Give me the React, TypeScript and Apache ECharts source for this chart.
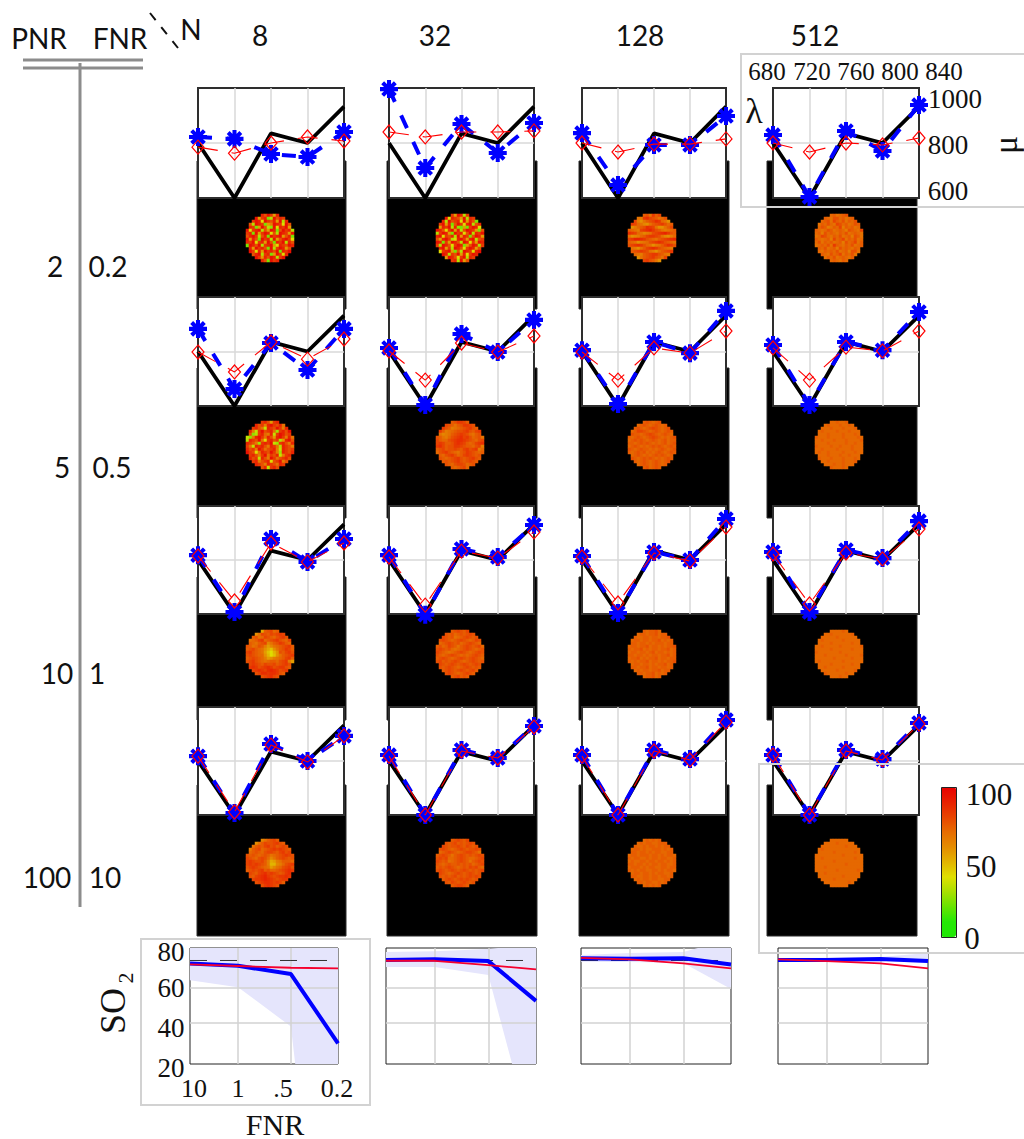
import React, { useEffect, useRef } from "react";
import * as echarts from "echarts";

// ---- data ----
const wavelengths = [680, 720, 760, 800, 840];
const truthMu = [800, 600, 835, 800, 932];
const columnsN = ["8", "32", "128", "512"];
const rowsPNR = ["2", "5", "10", "100"];
const rowsFNR = ["0.2", "0.5", "1", "10"];

const blueMu = [
  [[822, 815, 760, 749, 840], [996, 709, 869, 764, 873], [836, 647, 793, 793, 898], [829, 604, 844, 771, 938]],
  [[883, 662, 831, 732, 883], [813, 604, 864, 798, 916], [805, 607, 835, 794, 949], [824, 604, 835, 805, 945]],
  [[818, 607, 878, 793, 878], [818, 597, 841, 811, 930], [815, 604, 830, 800, 952], [830, 607, 837, 807, 944]],
  [[818, 607, 863, 800, 893], [822, 600, 841, 811, 930], [822, 600, 841, 807, 952], [822, 600, 841, 807, 941]],
];
const redMu = [
  [[785, 763, 800, 822, 807], [840, 822, 840, 840, 844], [800, 767, 796, 796, 815], [800, 767, 800, 793, 818]],
  [[798, 725, 835, 772, 846], [802, 695, 831, 798, 857], [798, 695, 813, 794, 875], [813, 695, 816, 802, 875]],
  [[815, 648, 863, 793, 863], [811, 633, 833, 807, 904], [811, 641, 826, 796, 922], [822, 637, 826, 804, 915]],
  [[818, 611, 859, 796, 893], [818, 600, 837, 811, 926], [818, 600, 837, 804, 944], [822, 600, 837, 804, 937]],
];

// FNR axis order 10, 1, .5, 0.2 at their places on the drawn axis
const fnrPlaces = [0, 1, 2.1, 3.08];
const fnrTicks = ["10", "1", ".5", "0.2"];
const so2Truth = [75.76, 75.76, 75.76, 75.76];
const so2Blue = [
  [74.1, 72.7, 68, 28.4],
  [76, 76.4, 75.4, 52.7],
  [77, 76.7, 77, 73.5],
  [76, 76, 76.6, 75.4],
];
const so2Red = [
  [73.5, 72.6, 71.6, 71.3],
  [75.6, 75.6, 73.1, 70.7],
  [77.3, 76.4, 74.1, 71.3],
  [76.4, 75.4, 74.1, 71.3],
];
const so2BandUpper = [
  [[0, 82.9], [3.08, 82.9]],
  [[0, 80.6], [1, 81], [2.1, 82.3], [2.3, 82.9], [3.08, 82.9]],
  [[0, 78.9], [1, 80], [2.1, 80.6], [2.4, 82.9], [3.08, 82.9]],
  [[0, 77], [2.1, 77.7], [3.08, 80]],
];
const so2BandLower = [
  [[0, 64.5], [1, 60.5], [2.1, 38], [2.19, 16.6], [3.08, 16.6]],
  [[0, 72], [1, 72], [2.1, 67.4], [2.59, 16.6], [3.08, 16.6]],
  [[0, 75], [1, 74.9], [2.1, 74.3], [3.08, 59.4]],
  [[0, 75.4], [2.1, 75.4], [3.08, 74.3]],
];

// SO2 images: each letter is one cell of the disc, a = 20 and every next letter is 3 more
const disk_2_8 = ["xtzvmx","zmvxbeztxv","vzxhzvtxmzex","tezxvbmpzxvhzt","xvbmzteczhxvzm","zhvxzetmzxbtzvxe","vxbzmvzxhtezxvmz","txzvetxbzvxzmtxb","zmxtbzvxezmtxzvh","xvzhvxmztbxvzext","bzxtzevxzmhxvtzx","xmzvxtbzevzxmt","zvhxmzvxtzbxvz","txzevxbmzvhx","zvmxtzxevz","xtbzvx"];
const disk_2_32 = ["vmzxev","zhxvtmzexv","xeztvxhzmxtb","vzmxbtzvhxzetx","mxvzexcbmbvzxh","zxthvzmxetzxvmbt","evzxmbzvxhtzexvz","xzhvtxezmxvbtzxm","tmxzvehxzvmxzetv","zxbvmzxtezxhvmzx","vezxthvzxbmtzxev","xzmvezxthvzxmt","hvxzmbtezxvhxz","zxevtzmxhvzx","mzxthvzexv","vxezmt"];
const disk_2_128 = ["stqvsu","qpvwutsqrt","upnqstuwvrqn","vurqonqstuvtrs","nprstwvuqnnqsu","srqpuvwxvtsqpqrs","wvurqopqtuvwxvts","qnoprsuvvutqonpr","uvxxwvtsrqstuvwx","srqnpqrtuvwvtsrq","tuvwvtrqnpqsuwvt","qpnqsuvwvtsrqp","stuvutqpnqstuv","rqpstuvvtsqp","nqstuvtsqu","uvtsqn"];
const disk_2_512 = ["rsqrst","srqttrsqrs","rstqusrtqsrt","qsrtrqutrsqrts","rtspqsrupsrsqr","srqrtsqrsrptsrqu","rsptrsrqsrtqrsrq","qrutrqsrtqrsptsq","srqrspursuqsrtqr","rtqsrsqrsptrsuqs","qrsrtqvsrqsrtqrs","srtqrsptrsrqsr","rqsrsrtqrspttq","srqtrsuqsrtq","qsrtqrsrqs","rsrqsr"];
const disk_5_8 = ["vxtmvx","xtvpxzvtxq","vxtqfxvtzvpx","xpfvztvxqdvxtz","tcevxrpxfvzxtv","fcpxzvqxtmxzvpxq","exvtzqhvxtvemxzt","xvtpdvxvzfdvxtpx","vqfxvxtpxvqexvtp","xtvpzvqtvxpfxvtv","zvthqxvtzvpdxvtx","vxtpvzqvtxfpvx","xtvfxtpzvqtvxt","vxptvxhtvzpt","xvtpxvtqxv","txfvxt"];
const disk_5_32 = ["stvvus","utsqstvvut","vtspqrstuvts","vspqrsttuvtsuv","qopqstuvutrqst","tsqprtuvwuvtrstq","usrrtuvwwvutsrtu","uvusstvwvusrsuvw","vwusttvvutssrtup","stusttutsuvtuvpr","rtuvtsrqstvutsrs","srtuvtrsuvutst","tsrstuvtstuvts","ststuvtstuts","tsrtuutrst","srstur"];
const disk_5_128 = ["stsrst","rstsrstsrs","stsrstutsrst","rsuutsrstsrsts","tssrstutsrstsr","srstsrstutsrsrst","rststsrstsrstrss","ssrststsrsrstrst","rstsrsrststsrsts","tsrstssrsrstsrst","srststrsrstsrsts","rstsrsrststsrs","tsrststsrsrsts","srstsrstsrst","rstsrstsrs","strsts"];
const disk_5_512 = ["rrsrrs","rsrrrsrrsr","rrrsrrrsrrrs","rsrrrrsrrrsrrr","rrrsrrrrsrrrsr","srrrsrrrrsrrrrsr","rrsrrrsrrrsrrrrs","rrrrsrrrrrsrrsrr","srrrrsrrsrrrsrrr","rrsrrrrsrrrrsrrr","rsrrsrrrrsrrrsrr","rrrsrrrsrrsrrr","srrrsrrrsrrrsr","rrsrrrrsrrrs","rrrsrrsrrr","srrrsr"];
const disk_10_8 = ["lsturs","nqutsutuvu","stqrutsrtuvt","qrsuvrstuvtsru","srqstuoqstvusr","tsqrtspmoqrstuvs","stusrqnljnqstvus","uvtsrqmjhkntsuvt","tutsrrnkhjnqstuv","stutsrpmnpqrsuvs","tuvtsrqrssrtuvpm","uvutsuttustuvt","vwvtuvwvtuvvts","uvwvuwxwvtuv","tuwwvwwvts","tuvwut"];
const disk_10_32 = ["stutsu","tstrststut","utstqrstutst","tutsrstutsrsut","rstutstrstutsr","strsutsqstutstur","tutstrqrstutsrst","utsrqrstutsrstut","tsrstutsrsrstuts","stutsrstutstutsr","tuststutsrstutst","utstutstutstut","tstutsrstutsts","stutstutstus","tutsrstuts","stusts"];
const disk_10_128 = ["srsstr","rssrsstrss","srrssrssrsst","rssrssrsstrsrs","ssrssrsrsssrss","rssrsstrssrsrsst","srsstrsrssrsstrs","rssrssrstrssrsrs","ssrssrsrssrsstrs","rsstrsrsstrssrss","srsrsstrssrsrsst","rssrssrsrsstrs","ssrsstrssrssrs","rsrssrsstrss","ssrsstrsrs","rsstrs"];
const disk_10_512 = ["rrrrsr","rrsrrrrrrs","rrrrrsrrrrrr","rsrrrrrrsrrrrr","rrrrsrrrrrrsrr","rrsrrrrrsrrrrrrs","rrrrrsrrrrrrsrrr","srrrrrrrsrrrrrrr","rrrsrrrrrrsrrrrs","rrrrrrsrrrrrsrrr","rsrrrrrrrsrrrrrr","rrrrsrrrrrrsrr","rrsrrrrrsrrrrr","rrrrrsrrrrrs","srrrrrrsrr","rrrsrr"];
const disk_100_8 = ["oqstus","nqsuttuvts","qstsuvtustut","psturstuvuvuts","rstsrtuutsuvtu","tstsrstsqrstuvut","utsrtutroqstutst","uvuttusplmpqsssr","uvuvutspkkoprtuv","tuvutsrqmoqrtuvt","stutuvstrrstuvwv","utsuvwuvutstvw","tsuvwxvutuvvwv","uvvwxwvutuvv","tuvwwvuvus","tvwvut"];
const disk_100_32 = ["stutsu","tstuststut","utsttutsutst","tutsrstutsttut","rstutsrstuutsq","stutsqstutststut","tuturrstutsrrstu","utstqrstutsqstut","tsrstsstststrstu","ststutsrstsutusr","tutstutstutststu","utsrstutstutst","tststuststutut","stutstututst","tsutstutst","stuuts"];
const disk_100_128 = ["rsrsrs","rsrssrrsss","srrsrssrsrss","rssrsrrsssrsrs","ssrssrsrssrrss","rssrsssrssrsrssr","srssrrsrssrssrrs","rsrrssrssrssrsrs","ssrssrsrssrssrrs","rsssrsrssrrssrss","srsrssrrssrsrssr","rssrssrsrssrrs","ssrrssrssrssrs","rsrssrssrrss","ssrssrrsrs","rsrsrs"];
const disk_100_512 = ["rrrrrr","rrrrsrrrrr","rrrrrrrrsrrr","rsrrrrrrrrrrrr","rrrrrsrrrrrrsr","rrrrrrrrrsrrrrrr","rrsrrrrrrrrrrsrr","rrrrrrsrrrrrrrrr","rrrrrrrrrrsrrrrr","rrrsrrrrrrrrrrrr","rrrrrrrsrrrrrrsr","rrsrrrrrrrrrrr","rrrrrrrrsrrrrr","rrrrsrrrrrrr","rrrrrrrrsr","rrrrrr"];
const diskRows = [
  [disk_2_8, disk_2_32, disk_2_128, disk_2_512],
  [disk_5_8, disk_5_32, disk_5_128, disk_5_512],
  [disk_10_8, disk_10_32, disk_10_128, disk_10_512],
  [disk_100_8, disk_100_32, disk_100_128, disk_100_512],
];
const colorStops = ["#1fe805","#24e805","#66e400","#a8e000","#e0e000","#e2b400","#e48c00","#e66c00","#e84400","#e82000","#e80000"];

// ---- layout ----
const panelX = [[198, 344], [389, 534], [582, 726], [773, 919]];
const panelY = [[88, 198], [297, 406], [506, 614], [707, 815]];
const frameX = [[197, 346], [387, 537], [579, 729], [767, 917]];
const frameY = [[161, 309], [368, 518], [577, 720], [785, 936]];
const diskLeft = [246, 436, 628, 815];
const diskTop = [214, 421, 630, 839];
const so2X = [[190, 338], [386, 536], [581, 731], [778, 928]];
const so2Y = [948, 1064];
const W = 1024, H = 1139;
const SANS = "Lato", SERIF = "Liberation Serif";
const STAR = "path://M-1.8 -8H1.8V8H-1.8ZM-8 -1.8H8V1.8H-8ZM-6.9 -4.35L-4.35 -6.9L6.9 4.35L4.35 6.9ZM4.35 -6.9L6.9 -4.35L-4.35 6.9L-6.9 4.35Z";

function text(t: string, x: number, y: number, size: number, family: string, extra: any = {}) {
  return {
    type: "text", x, y, z: 100, silent: true, ...extra,
    style: { text: t, fontSize: size, fontFamily: family, fill: "#111", align: "center", verticalAlign: "middle", ...(extra.style || {}) },
  };
}
function line(x1: number, y1: number, x2: number, y2: number, stroke: string, lineWidth: number, lineDash?: number[]) {
  return { type: "line", z: 100, silent: true, shape: { x1, y1, x2, y2 }, style: { stroke, lineWidth, lineDash } };
}
function box(x: number, y: number, w: number, h: number) {
  return { type: "rect", z: 100, silent: true, shape: { x, y, width: w, height: h }, style: { fill: "transparent", stroke: "#d2d2d2", lineWidth: 2 } };
}

function buildOption() {
  const grid: any[] = [], xAxis: any[] = [], yAxis: any[] = [], series: any[] = [], graphic: any[] = [];
  const heatSeries: number[] = [];
  const cells = Array.from({ length: 16 }, (_, i) => String(i));

  const addGrid = (g: any, x: any, y: any) => {
    grid.push(g);
    xAxis.push({ gridIndex: grid.length - 1, ...x });
    yAxis.push({ gridIndex: grid.length - 1, ...y });
    return grid.length - 1;
  };

  rowsPNR.forEach((_, r) => {
    columnsN.forEach((_, c) => {
      // black image frame behind the panel
      graphic.push({
        type: "rect", z: 0, silent: true,
        shape: { x: frameX[c][0], y: frameY[r][0], width: frameX[c][1] - frameX[c][0], height: frameY[r][1] - frameY[r][0] },
        style: { fill: "#000", stroke: "#2a2a2a", lineWidth: 1 },
      });
      // SO2 disc
      const hg = addGrid(
        { left: diskLeft[c], top: diskTop[r], width: 48, height: 48, show: false, z: 1 },
        { type: "category", data: cells, show: false },
        { type: "category", data: cells, show: false, inverse: true },
      );
      const data: number[][] = [];
      diskRows[r][c].forEach((row, i) => {
        const off = Math.floor((16 - row.length) / 2);
        for (let j = 0; j < row.length; j++) data.push([off + j, i, (row.charCodeAt(j) - 97) * 3 + 20]);
      });
      heatSeries.push(series.length);
      series.push({ type: "heatmap", xAxisIndex: hg, yAxisIndex: hg, data, z: 2, progressive: 0, emphasis: { disabled: true }, itemStyle: { borderWidth: 0 } });

      // spectrum panel
      const lg = addGrid(
        {
          left: panelX[c][0], top: panelY[r][0], width: panelX[c][1] - panelX[c][0], height: panelY[r][1] - panelY[r][0],
          show: true, backgroundColor: "#fff", borderColor: "#2e2e2e", borderWidth: 2, z: 1,
        },
        {
          type: "value", min: 680, max: 840, interval: 40, z: 2,
          axisLine: { show: false }, axisTick: { show: false }, axisLabel: { show: false },
          splitLine: { show: true, showMinLine: false, showMaxLine: false, lineStyle: { color: "#d9d9d9", width: 1.5 } },
        },
        {
          type: "value", min: 600, max: 1000, interval: 200, z: 2,
          axisLine: { show: false }, axisTick: { show: false }, axisLabel: { show: false },
          splitLine: { show: true, showMinLine: false, showMaxLine: false, lineStyle: { color: "#d9d9d9", width: 1.5 } },
        },
      );
      const pts = (v: number[]) => wavelengths.map((w, i) => [w, v[i]]);
      series.push({
        type: "line", xAxisIndex: lg, yAxisIndex: lg, data: pts(truthMu), z: 3, clip: false, showSymbol: false, symbol: "none",
        lineStyle: { color: "#000", width: 3.8 }, silent: true,
      });
      series.push({
        type: "line", xAxisIndex: lg, yAxisIndex: lg, data: pts(blueMu[r][c]), z: 4, clip: false,
        symbol: STAR, symbolSize: 18, showAllSymbol: true,
        itemStyle: { color: "#0000ff" }, lineStyle: { color: "#0000ff", width: 4, type: [14, 15] }, silent: true,
      });
      series.push({
        type: "line", xAxisIndex: lg, yAxisIndex: lg, data: pts(redMu[r][c]), z: 5, clip: false,
        symbol: "diamond", symbolSize: [12, 14], showAllSymbol: true,
        itemStyle: { color: "transparent", borderColor: "#ff0000", borderWidth: 1.2 },
        lineStyle: { color: "#ff0000", width: 1.1, type: [20, 14] }, silent: true,
      });
    });
  });

  // bottom SO2 panels
  columnsN.forEach((_, c) => {
    const g = addGrid(
      {
        left: so2X[c][0], top: so2Y[0], width: so2X[c][1] - so2X[c][0], height: so2Y[1] - so2Y[0],
        show: true, backgroundColor: "#fff", borderColor: "#222", borderWidth: 1, z: 1,
      },
      { type: "value", min: 0, max: 3.08, show: false },
      { type: "value", min: 16.6, max: 82.9, show: false },
    );
    const band = [...so2BandUpper[c], ...[...so2BandLower[c]].reverse()];
    series.push({
      type: "custom", xAxisIndex: g, yAxisIndex: g, z: 2, silent: true, data: band, encode: { x: 0, y: 1 },
      renderItem: (params: any, api: any) => {
        if (params.dataIndex !== 0) return null;
        return { type: "polygon", shape: { points: band.map((p) => api.coord(p)) }, style: { fill: "#e5e5fc" } };
      },
    });
    const pts = (v: number[]) => fnrPlaces.map((x, i) => [x, v[i]]);
    series.push({
      type: "line", xAxisIndex: g, yAxisIndex: g, data: pts(so2Truth), z: 3, symbol: "none", silent: true,
      lineStyle: { color: "#333", width: 1, type: [17, 13] },
      markLine: {
        z: 3, silent: true, symbol: "none", animation: false, label: { show: false },
        lineStyle: { color: "#d2d2d2", width: 1.5, type: "solid" },
        data: [{ yAxis: 40 }, { yAxis: 60 }, { xAxis: fnrPlaces[1] }, { xAxis: fnrPlaces[2] }],
      },
    });
    series.push({
      type: "line", xAxisIndex: g, yAxisIndex: g, data: pts(so2Blue[c]), z: 4, symbol: "none", silent: true, clip: false,
      lineStyle: { color: "#0000ff", width: 4 },
    });
    series.push({
      type: "line", xAxisIndex: g, yAxisIndex: g, data: pts(so2Red[c]), z: 5, symbol: "none", silent: true, clip: false,
      lineStyle: { color: "#f5002d", width: 1.8 },
    });
  });

  // header and row labels
  graphic.push(
    line(23, 60, 143, 60, "#8c8c8c", 3),
    line(23, 68, 143, 68, "#8c8c8c", 3),
    line(80, 63, 80, 907, "#8c8c8c", 3),
    line(150, 13, 178, 48, "#111", 2, [9, 9]),
    text("PNR", 39, 38, 28, SANS),
    text("FNR", 120, 38, 28, SANS),
    text("N", 191, 29, 28, SANS),
  );
  const headX = [260, 435, 640, 815];
  columnsN.forEach((n, i) => graphic.push(text(n, headX[i], 35, 28, SANS)));
  const pnrX = [55, 62, 57, 47], fnrX = [108, 112, 97, 105], labelY = [266, 467, 673, 877];
  rowsPNR.forEach((p, i) => {
    graphic.push(text(p, pnrX[i], labelY[i], 28, SANS), text(rowsFNR[i], fnrX[i], labelY[i], 28, SANS));
  });

  // spectrum callout
  graphic.push(box(741, 54, 290, 153));
  const waveX = [767, 812, 856, 900, 944];
  wavelengths.forEach((w, i) => graphic.push(text(String(w), waveX[i], 71, 25, SERIF)));
  graphic.push(text("λ", 754, 111, 36, SERIF));
  graphic.push(text("1000", 955, 99, 27, SERIF), text("800", 948, 145, 27, SERIF), text("600", 948, 191, 27, SERIF));
  graphic.push(text("μ", 1005, 145, 34, SERIF, { rotation: Math.PI / 2 }));

  // colour bar callout
  graphic.push(box(759, 764, 290, 189));
  graphic.push({ type: "rect", z: 100, silent: true, shape: { x: 941.5, y: 787.5, width: 15, height: 150 }, style: { fill: "transparent", stroke: "#222", lineWidth: 1 } });
  graphic.push(text("100", 989, 794, 31, SERIF), text("50", 981, 866, 31, SERIF), text("0", 972, 938, 31, SERIF));

  // SO2 callout
  graphic.push(box(141, 939, 229, 166));
  const so2Ticks = ["80", "60", "40", "20"], so2TickY = [952, 988, 1028, 1068];
  so2Ticks.forEach((t, i) => graphic.push(text(t, 171, so2TickY[i], 27, SERIF)));
  const fnrLabelX = [194, 238, 283, 337];
  fnrTicks.forEach((t, i) => graphic.push(text(t, fnrLabelX[i], 1088, 26, SERIF)));
  graphic.push(text("FNR", 275, 1124, 30, SERIF));
  graphic.push(text("SO", 113, 1011, 36, SERIF, { rotation: Math.PI / 2 }));
  graphic.push(text("2", 125, 978, 22, SERIF, { rotation: Math.PI / 2 }));

  return {
    animation: false,
    backgroundColor: "#fff",
    grid, xAxis, yAxis, series, graphic,
    visualMap: {
      type: "continuous", min: 0, max: 100, dimension: 2, seriesIndex: heatSeries, show: true,
      left: 941, top: 787, itemWidth: 15, itemHeight: 150, padding: 0, calculable: false, text: null, showLabel: false,
      inRange: { color: colorStops }, hoverLink: false,
    },
  };
}

export default function App() {
  const ref = useRef<HTMLDivElement>(null);
  useEffect(() => {
    const chart = echarts.init(ref.current!, undefined, { renderer: "svg" });
    chart.setOption(buildOption() as any);
    return () => chart.dispose();
  }, []);
  return <div ref={ref} style={{ position: "absolute", left: 0, top: 0, width: W, height: H }} />;
}
